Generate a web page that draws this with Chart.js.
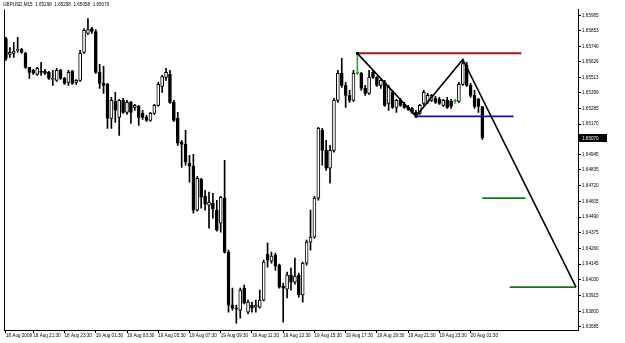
<!DOCTYPE html>
<html>
<head>
<meta charset="utf-8">
<script src="https://cdn.jsdelivr.net/npm/chart.js"></script>
<style>
  html, body { margin: 0; padding: 0; background: #fff; }
</style>
</head>
<body>
<canvas id="chart-1" width="625" height="343"></canvas>
<script>
// GBPUSD M15 candles
const titleText = 'GBPUSD,M15  1.65298  1.65298  1.65058  1.65070';

const opens = [1.65797, 1.65680, 1.65688, 1.65710, 1.65717, 1.65688, 1.65585, 1.65563, 1.65534, 1.65556,
  1.65556, 1.65549, 1.65497, 1.65490, 1.65563, 1.65505, 1.65476, 1.65556, 1.65476, 1.65490,
  1.65695, 1.65834, 1.65870, 1.65848, 1.65549, 1.65468, 1.65461, 1.65212, 1.65337, 1.65220,
  1.65344, 1.65256, 1.65329, 1.65293, 1.65300, 1.65249, 1.65220, 1.65198, 1.65249, 1.65307,
  1.65446, 1.65512, 1.65534, 1.65329, 1.65212, 1.65037, 1.65022, 1.64883, 1.64862, 1.64540,
  1.64766, 1.64642, 1.64576, 1.64591, 1.64540, 1.64445, 1.64628, 1.64233, 1.63845, 1.63823,
  1.63809, 1.63970, 1.63794, 1.63845, 1.63831, 1.63831, 1.63882, 1.64218, 1.64167, 1.64211,
  1.64138, 1.63984, 1.63962, 1.64065, 1.64014, 1.64065, 1.63919, 1.64153, 1.64306, 1.64343,
  1.64628, 1.65125, 1.64978, 1.64847, 1.64978, 1.65344, 1.65541, 1.65454, 1.65381, 1.65344,
  1.65541, 1.65541, 1.65432, 1.65395, 1.65549, 1.65512, 1.65454, 1.65476, 1.65322, 1.65402,
  1.65293, 1.65344, 1.65315, 1.65293, 1.65285, 1.65256, 1.65249, 1.65322, 1.65337, 1.65344,
  1.65359, 1.65351, 1.65307, 1.65344, 1.65337, 1.65337, 1.65337, 1.65461, 1.65600, 1.65454,
  1.65381, 1.65351, 1.65298];

const highs = [1.65805, 1.65731, 1.65768, 1.65805, 1.65724, 1.65695, 1.65585, 1.65571, 1.65585, 1.65622,
  1.65571, 1.65556, 1.65563, 1.65578, 1.65571, 1.65512, 1.65563, 1.65563, 1.65497, 1.65710,
  1.65870, 1.65943, 1.65878, 1.65863, 1.65607, 1.65593, 1.65468, 1.65366, 1.65402, 1.65351,
  1.65359, 1.65344, 1.65337, 1.65315, 1.65307, 1.65271, 1.65234, 1.65256, 1.65315, 1.65476,
  1.65527, 1.65578, 1.65563, 1.65344, 1.65256, 1.65052, 1.65125, 1.64942, 1.64949, 1.64788,
  1.64774, 1.64686, 1.64672, 1.64664, 1.64613, 1.64642, 1.64905, 1.64248, 1.63970, 1.63845,
  1.63970, 1.63992, 1.63882, 1.63867, 1.63882, 1.63955, 1.64175, 1.64299, 1.64233, 1.64226,
  1.64145, 1.64006, 1.64087, 1.64116, 1.64189, 1.64079, 1.64160, 1.64321, 1.64540, 1.64642,
  1.65147, 1.65139, 1.65052, 1.65015, 1.65359, 1.65563, 1.65651, 1.65476, 1.65417, 1.65563,
  1.65688, 1.65549, 1.65454, 1.65563, 1.65563, 1.65519, 1.65505, 1.65490, 1.65454, 1.65417,
  1.65351, 1.65359, 1.65329, 1.65307, 1.65293, 1.65271, 1.65315, 1.65417, 1.65395, 1.65388,
  1.65373, 1.65366, 1.65351, 1.65366, 1.65351, 1.65351, 1.65476, 1.65644, 1.65622, 1.65468,
  1.65417, 1.65359, 1.65298];

const lows = [1.65636, 1.65658, 1.65658, 1.65695, 1.65688, 1.65578, 1.65505, 1.65534, 1.65527, 1.65527,
  1.65534, 1.65497, 1.65454, 1.65483, 1.65497, 1.65461, 1.65454, 1.65461, 1.65461, 1.65483,
  1.65688, 1.65826, 1.65834, 1.65541, 1.65432, 1.65395, 1.65139, 1.65139, 1.65183, 1.65088,
  1.65249, 1.65242, 1.65176, 1.65271, 1.65161, 1.65205, 1.65190, 1.65190, 1.65242, 1.65300,
  1.65402, 1.65490, 1.65322, 1.65190, 1.65015, 1.64854, 1.64869, 1.64745, 1.64518, 1.64533,
  1.64555, 1.64540, 1.64408, 1.64481, 1.64386, 1.64379, 1.64226, 1.63794, 1.63809, 1.63713,
  1.63750, 1.63853, 1.63780, 1.63794, 1.63794, 1.63823, 1.63875, 1.64123, 1.64153, 1.64101,
  1.63970, 1.63721, 1.63897, 1.63955, 1.63999, 1.63904, 1.63867, 1.64138, 1.64248, 1.64335,
  1.64613, 1.64869, 1.64832, 1.64737, 1.64964, 1.65329, 1.65439, 1.65293, 1.65329, 1.65337,
  1.65534, 1.65417, 1.65381, 1.65388, 1.65505, 1.65446, 1.65432, 1.65300, 1.65271, 1.65285,
  1.65256, 1.65300, 1.65285, 1.65271, 1.65249, 1.65227, 1.65242, 1.65307, 1.65322, 1.65337,
  1.65322, 1.65315, 1.65300, 1.65285, 1.65285, 1.65322, 1.65329, 1.65454, 1.65446, 1.65366,
  1.65285, 1.65256, 1.65058];

const closes = [1.65651, 1.65695, 1.65702, 1.65717, 1.65695, 1.65585, 1.65549, 1.65541, 1.65578, 1.65549,
  1.65541, 1.65505, 1.65505, 1.65563, 1.65505, 1.65468, 1.65549, 1.65468, 1.65490, 1.65688,
  1.65856, 1.65863, 1.65848, 1.65549, 1.65468, 1.65454, 1.65212, 1.65344, 1.65271, 1.65344,
  1.65256, 1.65329, 1.65256, 1.65307, 1.65220, 1.65220, 1.65198, 1.65249, 1.65307, 1.65461,
  1.65519, 1.65549, 1.65329, 1.65198, 1.65030, 1.65022, 1.64891, 1.64862, 1.64540, 1.64774,
  1.64635, 1.64584, 1.64598, 1.64547, 1.64394, 1.64635, 1.64233, 1.63845, 1.63823, 1.63816,
  1.63955, 1.63860, 1.63867, 1.63823, 1.63845, 1.63882, 1.64160, 1.64175, 1.64204, 1.64131,
  1.63977, 1.63970, 1.64065, 1.64014, 1.64058, 1.63919, 1.64153, 1.64306, 1.64343, 1.64628,
  1.65139, 1.64978, 1.64847, 1.64978, 1.65344, 1.65541, 1.65454, 1.65381, 1.65344, 1.65541,
  1.65541, 1.65432, 1.65395, 1.65512, 1.65512, 1.65454, 1.65490, 1.65307, 1.65439, 1.65293,
  1.65344, 1.65307, 1.65293, 1.65278, 1.65256, 1.65242, 1.65307, 1.65402, 1.65381, 1.65381,
  1.65329, 1.65322, 1.65344, 1.65293, 1.65300, 1.65337, 1.65461, 1.65614, 1.65454, 1.65381,
  1.65300, 1.65300, 1.65070];

// bottom axis labels and the bar each one sits on
const tickLabels = ['18 Aug 2009', '18 Aug 21:30', '18 Aug 23:30', '19 Aug 01:30', '19 Aug 03:30',
  '19 Aug 05:30', '19 Aug 07:30', '19 Aug 09:30', '19 Aug 11:30', '19 Aug 13:30', '19 Aug 15:30',
  '19 Aug 17:30', '19 Aug 19:30', '19 Aug 21:30', '19 Aug 23:30', '20 Aug 01:30'];
const tickBars = [0, 7, 15, 23, 31, 39, 47, 55, 63, 71, 79, 87, 95, 103, 111, 119];

// right axis prices
const priceTicks = [1.65965, 1.65853, 1.65740, 1.65626, 1.65513, 1.65399, 1.65285, 1.65170, 1.65055,
  1.64945, 1.64835, 1.64720, 1.64605, 1.64490, 1.64375, 1.64260, 1.64145, 1.64030, 1.63915,
  1.63800, 1.63685];

// hand drawn objects: zigzag pattern and horizontal levels
const zigzagBars = [90, 105, 117, 146];
const zigzagPrices = [1.65688, 1.65227, 1.65644, 1.63977];
const levelStart = [90, 105, 122, 129];
const levelEnd = [132, 130, 133, 146];
const levelPrice = [1.65688, 1.65227, 1.64628, 1.63977];

// 15 minute slots, including the empty space right of the last bar
const slotCount = 147;
const monthNames = ['Jan', 'Feb', 'Mar', 'Apr', 'May', 'Jun', 'Jul', 'Aug', 'Sep', 'Oct', 'Nov', 'Dec'];
const firstSlot = Date.UTC(2009, 7, 18, 19, 45);
const pad = n => (n < 10 ? '0' : '') + n;
const times = [];
for (let i = 0; i < slotCount; i++) {
  const d = new Date(firstSlot + i * 15 * 60000);
  times.push(d.getUTCDate() + ' ' + monthNames[d.getUTCMonth()] + ' ' + pad(d.getUTCHours()) + ':' + pad(d.getUTCMinutes()));
}

const dojiColor = 'rgb(40,170,40)';
const levelColors = ['rgb(180,20,20)', 'rgb(20,20,150)', 'rgb(20,120,20)', 'rgb(20,120,20)'];
const levelWidths = [2, 1.6, 1.6, 1.6];
const tinyFont = { family: 'Liberation Sans', size: 4.6 };

const kind = opens.map((o, i) => closes[i] > o ? 'up' : (closes[i] < o ? 'down' : 'doji'));

const datasets = [
  {
    type: 'bar',
    data: lows.map((l, i) => [l, highs[i]]),
    backgroundColor: kind.map(k => k === 'doji' ? dojiColor : '#000'),
    barThickness: 1,
    grouped: false,
    order: 3
  },
  {
    type: 'bar',
    data: opens.map((o, i) => [o, closes[i]]),
    backgroundColor: kind.map(k => k === 'up' ? '#fff' : (k === 'down' ? '#000' : dojiColor)),
    borderColor: kind.map(k => k === 'doji' ? dojiColor : '#000'),
    borderWidth: 1,
    borderSkipped: false,
    barThickness: 3,
    minBarLength: 1,
    grouped: false,
    order: 2
  },
  {
    type: 'line',
    data: zigzagBars.map((b, k) => ({ x: times[b], y: zigzagPrices[k] })),
    borderColor: '#000',
    borderWidth: 1.6,
    pointRadius: [2, 2, 0, 0],
    pointStyle: 'rect',
    pointBackgroundColor: '#000',
    pointBorderWidth: 0,
    order: 0
  }
];
levelPrice.forEach((p, k) => {
  datasets.push({
    type: 'line',
    data: [{ x: times[levelStart[k]], y: p }, { x: times[levelEnd[k]], y: p }],
    borderColor: levelColors[k],
    borderWidth: levelWidths[k],
    pointRadius: 0,
    order: 1
  });
});

// left frame edge and the black current price box
const extras = {
  id: 'extras',
  afterDraw(chart) {
    const { ctx, chartArea: a, scales } = chart;
    ctx.save();
    ctx.strokeStyle = '#000';
    ctx.lineWidth = 1;
    ctx.beginPath();
    ctx.moveTo(a.left + 0.5, a.bottom);
    ctx.lineTo(a.left + 0.5, a.top);
    ctx.stroke();

    const last = closes[closes.length - 1];
    const y = Math.round(scales.y.getPixelForValue(last));
    ctx.fillStyle = '#000';
    ctx.fillRect(a.right + 1, y - 4, 28, 8);
    ctx.fillStyle = '#fff';
    ctx.font = tinyFont.size + 'px ' + tinyFont.family;
    ctx.textBaseline = 'middle';
    ctx.fillText(last.toFixed(5), a.right + 4, y + 0.5);
    ctx.restore();
  }
};

new Chart(document.getElementById('chart-1'), {
  type: 'bar',
  data: { labels: times, datasets: datasets },
  plugins: [extras],
  options: {
    responsive: false,
    animation: false,
    devicePixelRatio: 1,
    layout: { padding: { left: 3, right: 0, top: 0, bottom: 0 } },
    plugins: {
      legend: { display: false },
      tooltip: { enabled: false },
      title: {
        display: true,
        text: titleText,
        align: 'start',
        color: '#000',
        font: { family: 'Liberation Sans', size: 4.6, weight: 'normal' },
        padding: { top: 2, bottom: 2 }
      }
    },
    scales: {
      x: {
        offset: true,
        grid: { drawOnChartArea: false, tickLength: 3, color: '#000', offset: false },
        border: { display: true, color: '#000' },
        ticks: {
          autoSkip: false,
          maxRotation: 0,
          align: 'start',
          padding: 0,
          color: '#000',
          font: tinyFont,
          callback: (v, i) => tickLabels[i]
        },
        afterBuildTicks: s => { s.ticks = tickBars.map(b => ({ value: b })); },
        afterFit: s => { s.height = 13; }
      },
      y: {
        position: 'right',
        min: 1.63663,
        max: 1.66009,
        grid: { drawOnChartArea: false, tickLength: 3, color: '#000' },
        border: { display: true, color: '#000' },
        ticks: {
          color: '#000',
          font: tinyFont,
          padding: 1,
          callback: v => v.toFixed(5)
        },
        afterBuildTicks: s => { s.ticks = priceTicks.map(v => ({ value: v })); },
        afterFit: s => { s.width = 47; }
      }
    }
  }
});
</script>
</body>
</html>
